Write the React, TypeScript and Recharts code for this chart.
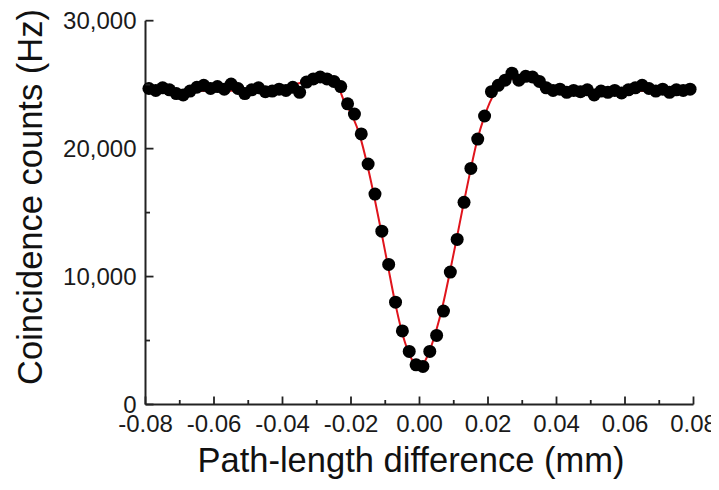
import React from 'react';
import { ComposedChart, Scatter, Line, XAxis, YAxis, Label } from 'recharts';

// Measured path-length differences (mm)
const pathDiff = [
  -0.079, -0.077, -0.075, -0.073, -0.071, -0.069, -0.067, -0.065, -0.063, -0.061,
  -0.059, -0.057, -0.055, -0.053, -0.051, -0.049, -0.047, -0.045, -0.043, -0.041,
  -0.039, -0.037, -0.035, -0.033, -0.031, -0.029, -0.027, -0.025, -0.023, -0.021,
  -0.019, -0.017, -0.015, -0.013, -0.011, -0.009, -0.007, -0.005, -0.003, -0.001,
  0.001, 0.003, 0.005, 0.007, 0.009, 0.011, 0.013, 0.015, 0.017, 0.019,
  0.021, 0.023, 0.025, 0.027, 0.029, 0.031, 0.033, 0.035, 0.037, 0.039,
  0.041, 0.043, 0.045, 0.047, 0.049, 0.051, 0.053, 0.055, 0.057, 0.059,
  0.061, 0.063, 0.065, 0.067, 0.069, 0.071, 0.073, 0.075, 0.077, 0.079,
];

// Measured coincidence counts (Hz)
const coincidence = [
  24700, 24550, 24750, 24600, 24300, 24200, 24500, 24800, 24950, 24700,
  24850, 24650, 25050, 24700, 24300, 24600, 24750, 24450, 24500, 24650,
  24550, 24800, 24400, 25200, 25450, 25600, 25450, 25250, 24850, 23500,
  22700, 21150, 18800, 16450, 13550, 10950, 8000, 5750, 4150, 3100,
  2980, 4150, 5400, 7300, 10350, 12900, 15800, 18450, 20750, 22550,
  24450, 24950, 25350, 25900, 25350, 25650, 25600, 25250, 24750, 24550,
  24650, 24400, 24550, 24450, 24600, 24200, 24500, 24400, 24550, 24350,
  24600, 24750, 24950, 24700, 24500, 24650, 24400, 24600, 24550, 24650,
];

// Fit curve
const fitX = [
  -0.08, -0.07, -0.06, -0.05, -0.044, -0.04, -0.036, -0.032, -0.029, -0.027,
  -0.025, -0.0235, -0.022, -0.0195, -0.0173, -0.0153, -0.0133, -0.0113, -0.0093, -0.0073,
  -0.0053, -0.0033, -0.0013, -0.0002, 0.0009, 0.0028, 0.0048, 0.0068, 0.0088, 0.0108,
  0.0128, 0.0148, 0.0168, 0.0188, 0.0205, 0.0225, 0.0245, 0.0265, 0.0285, 0.031,
  0.034, 0.038, 0.043, 0.05, 0.06, 0.07, 0.08,
];
const fitY = [
  24500, 24500, 24520, 24570, 24680, 24820, 25050, 25330, 25500, 25480,
  25250, 24700, 23700, 22500, 20900, 18800, 16350, 13700, 10950, 8200,
  5850, 4150, 3150, 2950, 3100, 4100, 5700, 7750, 10250, 12900,
  15600, 18200, 20600, 22400, 23600, 24600, 25200, 25450, 25500, 25400,
  25150, 24850, 24650, 24560, 24520, 24500, 24500,
];

const xTicks = [
  -0.08, -0.07, -0.06, -0.05, -0.04, -0.03, -0.02, -0.01, 0,
  0.01, 0.02, 0.03, 0.04, 0.05, 0.06, 0.07, 0.08,
];
const yTicks = [0, 5000, 10000, 15000, 20000, 25000, 30000];

const points = pathDiff.map((x, i) => ({ x, y: coincidence[i] }));
const fit = fitX.map((x, i) => ({ x, y: fitY[i] }));

const FONT = '"Liberation Sans", Arial, Helvetica, sans-serif';
const INK = '#222';
const MAJOR = 8;
const MINOR = 4.5;

const isMajorX = (v: number) => Math.round(v * 100) % 2 === 0;
const isMajorY = (v: number) => Math.round(v / 5000) % 2 === 0;
const fmtX = (v: number) => (Math.abs(v) < 1e-9 ? '0.00' : v.toFixed(2));
const fmtY = (v: number) => v.toLocaleString('en-US');

const BottomTick = (p: any) => {
  const { x, y, payload } = p;
  const major = isMajorX(payload.value);
  return (
    <g>
      <line x1={x} x2={x} y1={y} y2={y - (major ? MAJOR : MINOR)} stroke={INK} strokeWidth={1.8} />
      {major && (
        <text x={x} y={y + 10.5} dy="0.71em" textAnchor="middle" fontFamily={FONT} fontSize={24} fill="#1a1a1a">
          {fmtX(payload.value)}
        </text>
      )}
    </g>
  );
};

const TopTick = (p: any) => {
  const { x, y, payload } = p;
  const major = isMajorX(payload.value);
  return <line x1={x} x2={x} y1={y} y2={y + (major ? MAJOR : MINOR)} stroke={INK} strokeWidth={1.8} />;
};

const LeftTick = (p: any) => {
  const { x, y, payload } = p;
  const major = isMajorY(payload.value);
  return (
    <g>
      <line x1={x} x2={x + (major ? MAJOR : MINOR)} y1={y} y2={y} stroke={INK} strokeWidth={1.8} />
      {major && (
        <text x={x - 9} y={y} dy="0.36em" textAnchor="end" fontFamily={FONT} fontSize={24} fill="#1a1a1a">
          {fmtY(payload.value)}
        </text>
      )}
    </g>
  );
};

const RightTick = (p: any) => {
  const { x, y, payload } = p;
  const major = isMajorY(payload.value);
  return <line x1={x} x2={x - (major ? MAJOR : MINOR)} y1={y} y2={y} stroke={INK} strokeWidth={1.8} />;
};

const Dot = (p: any) => <circle cx={p.cx} cy={p.cy} r={6.5} fill="#000" />;

const YTitle = (p: any) => {
  const vb = p.viewBox || { x: 0, y: 0 };
  const cx = vb.x + 21.5;
  const cy = 189;
  return (
    <text
      x={cx}
      y={cy}
      dy="0.36em"
      transform={`rotate(-90 ${cx} ${cy})`}
      textAnchor="middle"
      fontFamily={FONT}
      fontSize={34.5}
      fill="#111"
    >
      Coincidence counts (Hz)
    </text>
  );
};

const XTitle = () => (
  <text x={403} y={464} textAnchor="middle" fontFamily={FONT} fontSize={34.5} fill="#111">
    Path-length difference (mm)
  </text>
);

export default function App() {
  return (
    <ComposedChart
      width={711}
      height={474}
      margin={{ top: 12.7, right: 25.5, bottom: 0, left: 0 }}
    >
      <XAxis
        xAxisId="bottom"
        dataKey="x"
        type="number"
        domain={[-0.08, 0.08]}
        ticks={xTicks}
        interval={0}
        orientation="bottom"
        height={77.5}
        tickSize={0}
        tickMargin={0}
        tickLine={false}
        tick={BottomTick}
        axisLine={{ stroke: INK, strokeWidth: 2 }}
      >
        <Label content={XTitle} />
      </XAxis>
      <XAxis
        xAxisId="top"
        dataKey="x"
        type="number"
        domain={[-0.08, 0.08]}
        ticks={xTicks}
        interval={0}
        orientation="top"
        height={0}
        tickSize={0}
        tickMargin={0}
        tickLine={false}
        tick={TopTick}
        axisLine={{ stroke: INK, strokeWidth: 2 }}
      />
      <YAxis
        yAxisId="left"
        type="number"
        domain={[0, 30000]}
        ticks={yTicks}
        interval={0}
        orientation="left"
        width={137.5}
        tickSize={0}
        tickMargin={0}
        tickLine={false}
        tick={LeftTick}
        axisLine={{ stroke: INK, strokeWidth: 2 }}
      >
        <Label content={YTitle} />
      </YAxis>
      <YAxis
        yAxisId="right"
        type="number"
        domain={[0, 30000]}
        ticks={yTicks}
        interval={0}
        orientation="right"
        width={0}
        tickSize={0}
        tickMargin={0}
        tickLine={false}
        tick={RightTick}
        axisLine={{ stroke: INK, strokeWidth: 2 }}
      />
      <Scatter
        xAxisId="bottom"
        yAxisId="left"
        data={points}
        dataKey="y"
        shape={Dot}
        isAnimationActive={false}
      />
      <Line
        xAxisId="top"
        yAxisId="right"
        data={fit}
        dataKey="y"
        type="monotone"
        stroke="#e0141c"
        strokeWidth={2}
        dot={false}
        activeDot={false}
        isAnimationActive={false}
      />
    </ComposedChart>
  );
}
